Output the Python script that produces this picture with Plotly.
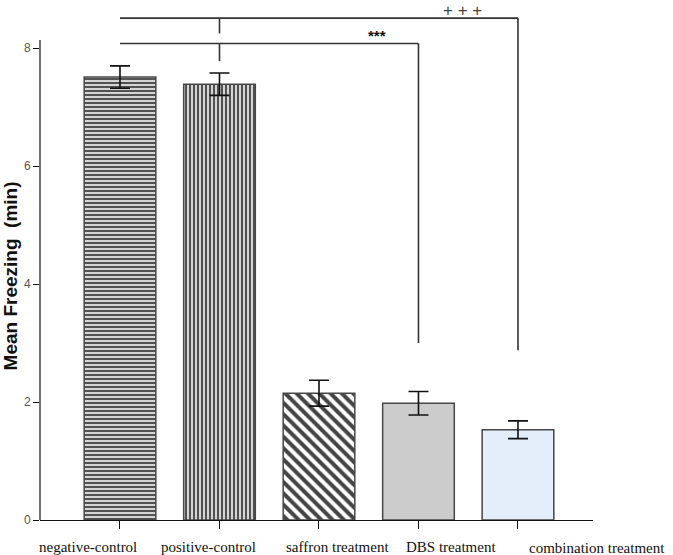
import plotly.graph_objects as go

categories = ["negative-control", "positive-control", "saffron treatment", "DBS treatment", "combination treatment"]
mean_freezing = [7.51, 7.39, 2.15, 1.98, 1.53]
error_sem = [0.19, 0.19, 0.22, 0.20, 0.15]
y_ticks = [0, 2, 4, 6, 8]

# significance brackets
bracket_top = 8.51
bracket_top_drop = 2.88
bracket_low = 8.08
bracket_low_drop = 3.0
label_low = "***"
label_top = "+ + +"

fill_colors = ["#d4d4d4", "#d4d4d4", "#ffffff", "#cccccc", "#e3eefa"]
pattern_shapes = ["-", "|", "\\", "", ""]
pattern_fg = ["#5e5e5e", "#5e5e5e", "#000000", "#000000", "#000000"]
pattern_size = [4, 4, 8, 8, 8]
pattern_sol = [0.45, 0.45, 0.5, 0.3, 0.3]

fig = go.Figure()
fig.add_trace(go.Bar(
    x=categories, y=mean_freezing, width=0.72,
    marker=dict(color=fill_colors,
                line=dict(color="#474747", width=1.5),
                pattern=dict(shape=pattern_shapes, fgcolor=pattern_fg, fgopacity=1,
                             size=pattern_size, solidity=pattern_sol, fillmode="overlay")),
    error_y=dict(type="data", array=error_sem, visible=True, color="#111111",
                 thickness=1.6, width=10),
    showlegend=False,
    hoverinfo="skip",
))

idx = {c: i for i, c in enumerate(categories)}
i_neg, i_pos, i_dbs, i_comb = idx[categories[0]], idx[categories[1]], idx[categories[3]], idx[categories[4]]
line_style = dict(color="#333333", width=1.6)
shapes = [
    # y axis line (shorter than plot area)
    dict(type="line", xref="paper", yref="paper", x0=0, x1=0, y0=0, y1=8.14 / 8.8, line=dict(color="#111111", width=1.2)),
    # upper bracket
    dict(type="line", xref="x", yref="y", x0=i_neg, x1=i_comb, y0=bracket_top, y1=bracket_top, line=line_style),
    dict(type="line", xref="x", yref="y", x0=i_comb, x1=i_comb, y0=bracket_top, y1=bracket_top_drop, line=line_style),
    dict(type="line", xref="x", yref="y", x0=i_pos, x1=i_pos, y0=bracket_top, y1=bracket_top - 0.26, line=line_style),
    # lower bracket
    dict(type="line", xref="x", yref="y", x0=i_neg, x1=i_dbs, y0=bracket_low, y1=bracket_low, line=line_style),
    dict(type="line", xref="x", yref="y", x0=i_dbs, x1=i_dbs, y0=bracket_low, y1=bracket_low_drop, line=line_style),
    dict(type="line", xref="x", yref="y", x0=i_pos, x1=i_pos, y0=bracket_low, y1=bracket_low - 0.30, line=line_style),
]

label_shift = [-32, -11, 19, 33, 79]
label_yshift = [-27, -27, -27, -27, -28]
annotations = []
for i, c in enumerate(categories):
    annotations.append(dict(x=i, y=0, xref="x", yref="paper", text=c, showarrow=False,
                            xanchor="center", yanchor="middle", xshift=label_shift[i], yshift=label_yshift[i],
                            font=dict(family="Liberation Serif", size=15, color="#111111")))
annotations.append(dict(x=2.58, y=8.22, xref="x", yref="y", text="<b>" + label_low + "</b>", showarrow=False,
                        font=dict(family="Arial", size=15, color="#111111")))
annotations.append(dict(x=3.44, y=8.64, xref="x", yref="y", text=label_top, showarrow=False,
                        font=dict(family="Arial", size=17, color="#444444")))
annotations.append(dict(x=0, y=4.13, xref="paper", yref="y", text="<b>Mean Freezing  (min)</b>", showarrow=False,
                        textangle=-90, xanchor="center", yanchor="middle", xshift=-30,
                        font=dict(family="Arial", size=19, color="#111111")))

fig.update_layout(
    width=673, height=555,
    margin=dict(l=40, r=80, t=1, b=35),
    plot_bgcolor="white", paper_bgcolor="white",
    shapes=shapes, annotations=annotations,
    hovermode=False,
    xaxis=dict(type="category", range=[-0.804, 4.754], showline=True, linecolor="#111111", linewidth=1.2,
               ticks="outside", ticklen=8, tickcolor="#111111", showticklabels=False, showgrid=False, zeroline=False),
    yaxis=dict(range=[0, 8.8], tickvals=y_ticks, ticks="outside", ticklen=6, tickcolor="#111111",
               showline=False, showgrid=False, zeroline=False,
               tickfont=dict(family="Arial", size=12, color="#555555")),
)

fig.write_html("out.html", config={"displayModeBar": False},
               post_script="document.body.style.margin='0';document.body.style.overflow='hidden';")
